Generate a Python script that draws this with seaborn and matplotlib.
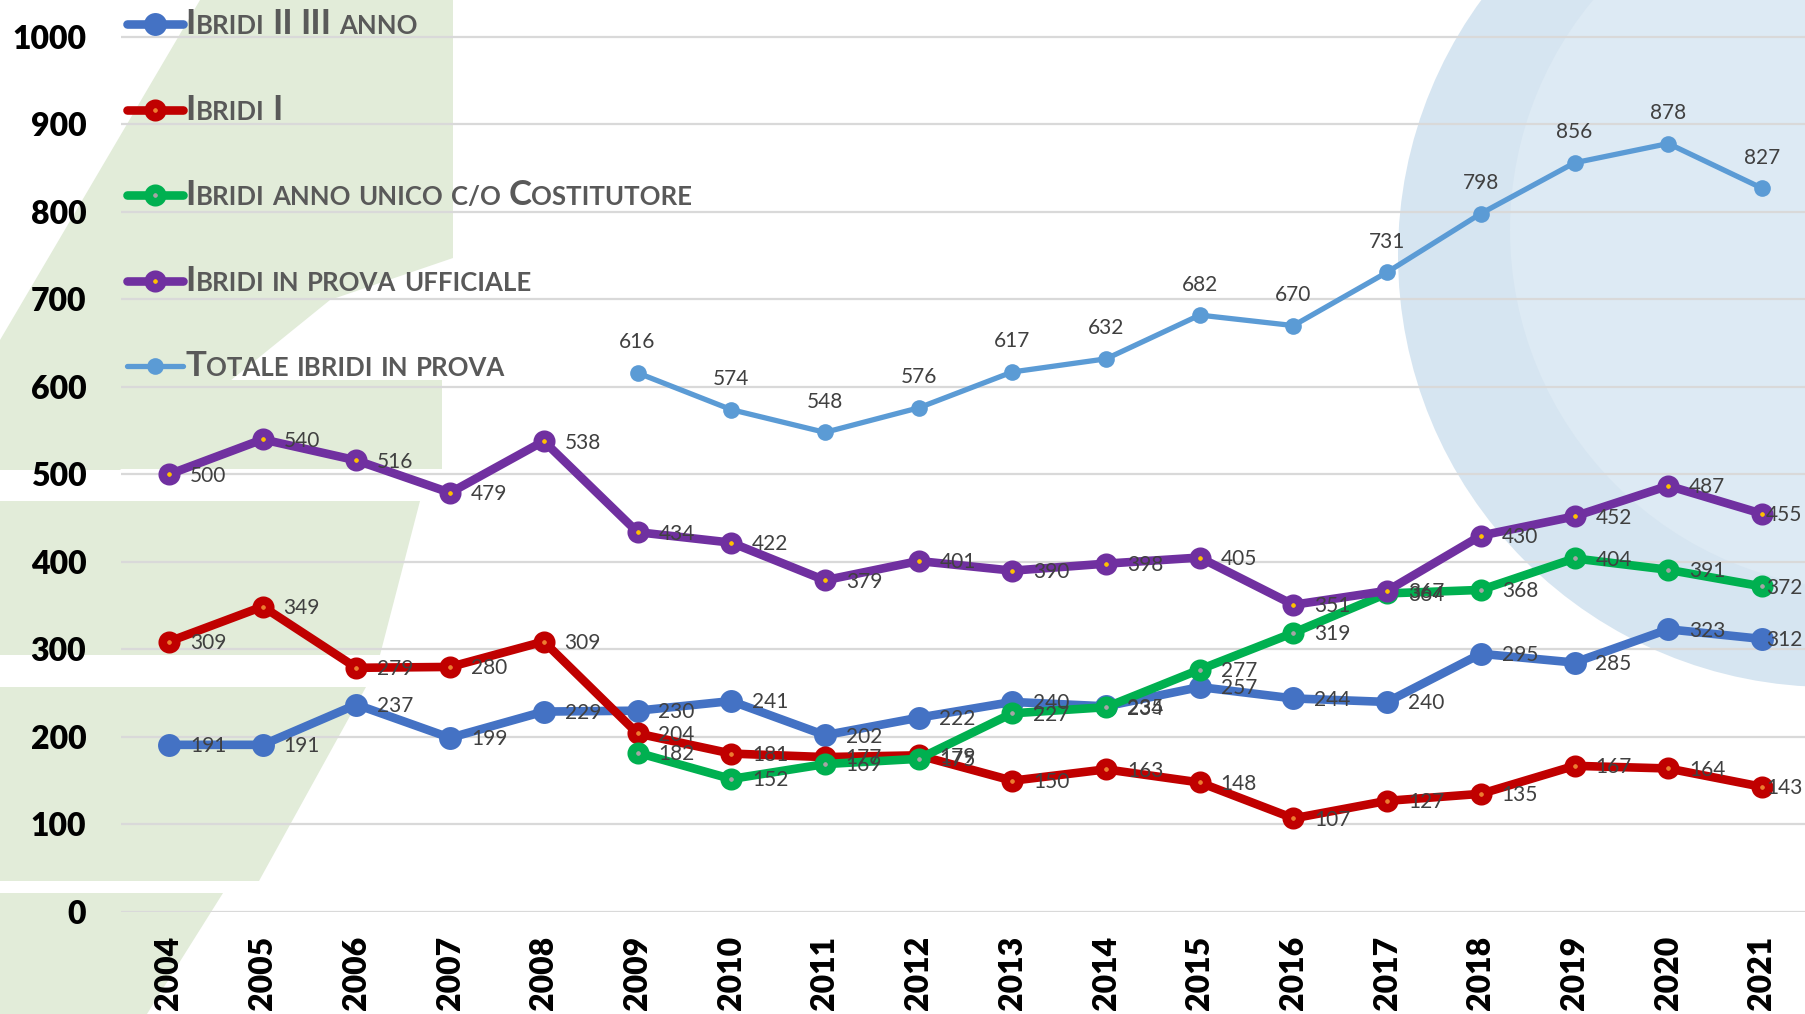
import numpy as np
import pandas as pd
import matplotlib
matplotlib.use('Agg')
import matplotlib.pyplot as plt
import seaborn as sns
from matplotlib.patches import Polygon, Ellipse
from matplotlib.lines import Line2D
from matplotlib.offsetbox import HPacker, VPacker, TextArea, DrawingArea, AnchoredOffsetbox

# ─────────────────────────────────────────
# DATA
# ─────────────────────────────────────────
years = list(range(2004, 2022))
years_from_2009 = list(range(2009, 2022))

ibridi_2_3 = [191, 191, 237, 199, 229, 230, 241, 202, 222, 240, 235, 257, 244, 240, 295, 285, 323, 312]
ibridi_1 = [309, 349, 279, 280, 309, 204, 181, 177, 179, 150, 163, 148, 107, 127, 135, 167, 164, 143]
ibridi_unico = [182, 152, 169, 175, 227, 234, 277, 319, 364, 368, 404, 391, 372]
ibridi_ufficiale = [500, 540, 516, 479, 538, 434, 422, 379, 401, 390, 398, 405, 351, 367, 430, 452, 487, 455]
totale = [616, 574, 548, 576, 617, 632, 682, 670, 731, 798, 856, 878, 827]

labels = ['Ibridi II III anno', 'Ibridi I', 'Ibridi anno unico c/o Costitutore',
          'Ibridi in prova ufficiale', 'Totale ibridi in prova']
y_ticks = list(range(0, 1001, 100))

# ─────────────────────────────────────────
# STYLE
# ─────────────────────────────────────────
sns.set_style('white')
plt.rcParams['font.family'] = ['Lato', 'DejaVu Sans']

W, H = 1806, 1014
fig = plt.figure(figsize=(W / 100, H / 100), dpi=100)
fig.patch.set_facecolor('white')


def px(x, y):
    return (x / W, 1 - y / H)


# background decoration (green leaves on the left, blue disc on the right)
leaf = '#E2ECD9'
shapes = [
    [(200, 0), (453, 0), (453, 258), (330, 300), (120, 470), (0, 470), (0, 340)],
    [(170, 380), (442, 380), (442, 469), (107, 469)],
    [(0, 501), (420, 501), (380, 655), (0, 655)],
    [(0, 687), (366, 687), (259, 881), (0, 881)],
    [(0, 893), (223, 893), (147, 1014), (0, 1014)],
]
for pts in shapes:
    fig.patches.append(Polygon([px(*p) for p in pts], closed=True, transform=fig.transFigure,
                               facecolor=leaf, edgecolor='none', zorder=-2))


def disc(cx, cy, r, color):
    return Ellipse(px(cx, cy), 2 * r / W, 2 * r / H, transform=fig.transFigure,
                   facecolor=color, edgecolor='none', zorder=-2)


fig.patches.append(disc(1830, 255, 432, '#D6E5F1'))
fig.patches.append(disc(1870, 230, 360, '#DDEAF4'))

ax = fig.add_axes([121 / W, 1 - 912 / H, 1 - 121 / W, 912 / H])
ax.set_facecolor('none')

# ─────────────────────────────────────────
# SERIES
# ─────────────────────────────────────────
series = [
    dict(x=years, y=ibridi_2_3, color='#4472C4', face='#4472C4', lw=6.2, ms=16.5, mew=0, pos='right'),
    dict(x=years, y=ibridi_1, color='#C00000', face='#ED7D31', lw=6.2, ms=9.7, mew=6.2, pos='right'),
    dict(x=years_from_2009, y=ibridi_unico, color='#00B050', face='#A5A5A5', lw=6.2, ms=9.7, mew=6.2, pos='right'),
    dict(x=years, y=ibridi_ufficiale, color='#7030A0', face='#FFC000', lw=6.2, ms=9.7, mew=6.2, pos='right'),
    dict(x=years_from_2009, y=totale, color='#5B9BD5', face='#5B9BD5', lw=3.8, ms=12, mew=0, pos='above'),
]

for i, s in enumerate(series):
    sns.lineplot(x=s['x'], y=s['y'], ax=ax, color=s['color'], linewidth=s['lw'],
                 marker='o', markersize=s['ms'], markerfacecolor=s['face'],
                 markeredgecolor=s['color'], markeredgewidth=s['mew'],
                 legend=False, zorder=3 + i)

for s in series:
    for xv, yv in zip(s['x'], s['y']):
        if s['pos'] == 'right':
            dx = 3 if xv == years[-1] else 15
            ax.annotate(str(yv), (xv, yv), xytext=(dx, -1), textcoords='offset points',
                        ha='left', va='center', fontsize=15, color='#404040', zorder=10)
        else:
            ax.annotate(str(yv), (xv, yv), xytext=(0, 22), textcoords='offset points',
                        ha='center', va='center', fontsize=15, color='#404040', zorder=10)

# ─────────────────────────────────────────
# AXES
# ─────────────────────────────────────────
ax.set_xlim(2003.488, 2021.47)
ax.set_ylim(0, 1042)
ax.set_yticks(y_ticks)
ax.set_yticklabels([str(t) for t in y_ticks], fontsize=23, fontweight='heavy', color='black')
ax.set_xticks(years)
ax.set_xticklabels([str(y) for y in years], rotation=90, fontsize=23, fontweight='heavy',
                   color='black', va='top', ha='center')
ax.tick_params(axis='y', length=0, pad=25)
ax.tick_params(axis='x', length=0, pad=17)
ax.grid(axis='y', color='#D9D9D9', linewidth=1.6)
ax.grid(axis='x', visible=False)
ax.set_axisbelow(True)
for sp in ax.spines.values():
    sp.set_visible(False)
ax.set_xlabel('')
ax.set_ylabel('')

# ─────────────────────────────────────────
# LEGEND (small caps look)
# ─────────────────────────────────────────
big, small = 25, 18.5
txt_color = '#595959'


def small_caps_box(label):
    words = []
    for word in label.split(' '):
        runs = []
        cur, cur_big = '', None
        for ch in word:
            is_big = ch.isupper()
            if cur_big is None or is_big == cur_big:
                cur += ch.upper()
            else:
                runs.append((cur, cur_big))
                cur = ch.upper()
            cur_big = is_big
        runs.append((cur, cur_big))
        parts = [TextArea(t, textprops=dict(fontsize=big if b else small, fontweight='bold',
                                            color=txt_color, family=['Lato', 'DejaVu Sans']))
                 for t, b in runs]
        words.append(HPacker(children=parts, align='baseline', pad=0, sep=0))
    return HPacker(children=words, align='baseline', pad=0, sep=5.5)


rows = []
for s, lab in zip(series, labels):
    da = DrawingArea(40, 22, 0, 0)
    da.add_artist(Line2D([0, 40], [11, 11], color=s['color'], linewidth=s['lw']))
    da.add_artist(Line2D([20], [11], marker='o', color=s['color'], markersize=s['ms'],
                         markerfacecolor=s['face'], markeredgecolor=s['color'],
                         markeredgewidth=s['mew'], linestyle='none'))
    rows.append(HPacker(children=[da, small_caps_box(lab)], align='center', pad=0, sep=2))

legend_box = VPacker(children=rows, align='left', pad=0, sep=38.6)
anchored = AnchoredOffsetbox(loc='upper left', child=legend_box, pad=0, borderpad=0,
                             frameon=False, bbox_to_anchor=px(127, 8),
                             bbox_transform=fig.transFigure)
ax.add_artist(anchored)

fig.savefig('out.png', dpi=100, facecolor='white')
